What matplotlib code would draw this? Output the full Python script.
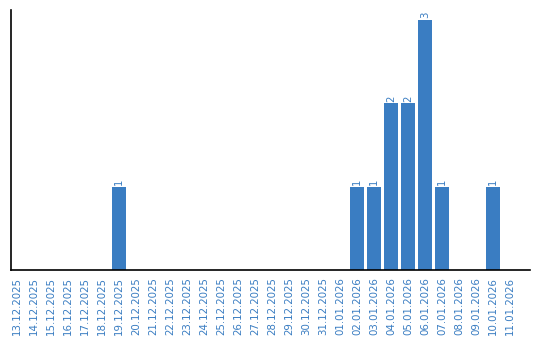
import matplotlib
matplotlib.use("Agg")
import matplotlib.pyplot as plt

# daily counts, 13.12.2025 .. 11.01.2026
dates = [
    "13.12.2025", "14.12.2025", "15.12.2025", "16.12.2025", "17.12.2025",
    "18.12.2025", "19.12.2025", "20.12.2025", "21.12.2025", "22.12.2025",
    "23.12.2025", "24.12.2025", "25.12.2025", "26.12.2025", "27.12.2025",
    "28.12.2025", "29.12.2025", "30.12.2025", "31.12.2025", "01.01.2026",
    "02.01.2026", "03.01.2026", "04.01.2026", "05.01.2026", "06.01.2026",
    "07.01.2026", "08.01.2026", "09.01.2026", "10.01.2026", "11.01.2026",
]
counts = [0, 0, 0, 0, 0, 0, 1, 0, 0, 0,
          0, 0, 0, 0, 0, 0, 0, 0, 0, 0,
          1, 1, 2, 2, 3, 1, 0, 0, 1, 0]

blue = '#3a7dc2'

fig = plt.figure(figsize=(5.4, 3.4), dpi=100)
ax = fig.add_axes([0.0204, 0.206, 0.961, 0.765])

x = range(len(dates))
ax.bar(x, counts, width=0.82, color=blue)

for i, v in enumerate(counts):
    if v > 0:
        ax.text(i, v + 0.02, str(v), rotation=90, ha='center', va='bottom',
                fontsize=7.3, color=blue)

ax.set_xlim(-0.35, 30.18)
ax.set_ylim(0, 3.12)
ax.set_xticks(list(x))
ax.set_xticklabels(dates, rotation=90, fontsize=7.4, color=blue)
ax.tick_params(axis='x', length=0, pad=5)
ax.set_yticks([])
ax.spines['top'].set_visible(False)
ax.spines['right'].set_visible(False)
ax.spines['left'].set_linewidth(1.2)
ax.spines['bottom'].set_linewidth(1.2)

fig.savefig('out.png', dpi=100)
